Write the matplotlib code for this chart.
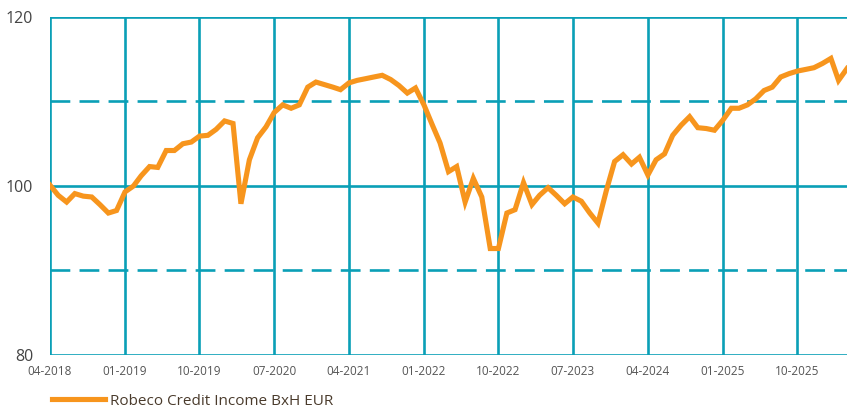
import numpy as np
import pandas as pd
import matplotlib
matplotlib.use("Agg")
import matplotlib.pyplot as plt

# ----------------------
# DATA (monthly, indexed to 100 at 04-2018)
# ----------------------
start_month = "2018-04-01"
series_name = "Robeco Credit Income BxH EUR"
values = [
    100.1, 98.9, 98.1, 99.1, 98.8, 98.7, 97.8, 96.8, 97.1, 99.3,
    100.0, 101.2, 102.3, 102.2, 104.2, 104.2, 105.0, 105.2, 105.9, 106.0,
    106.7, 107.7, 107.4, 97.9, 103.1, 105.7, 107.0, 108.7, 109.6, 109.2,
    109.6, 111.7, 112.3, 112.0, 111.7, 111.4, 112.2, 112.5, 112.7, 112.9,
    113.1, 112.6, 111.9, 111.0, 111.6, 109.6, 107.2, 105.1, 101.7, 102.3,
    98.1, 100.9, 98.7, 92.6, 92.6, 96.8, 97.2, 100.4, 97.8, 98.9,
    99.8, 98.9, 97.9, 98.7, 98.2, 96.8, 95.6, 99.5, 102.9, 103.7,
    102.6, 103.4, 101.3, 103.1, 103.8, 106.0, 107.2, 108.2, 106.9, 106.8,
    106.6, 107.8, 109.2, 109.2, 109.6, 110.3, 111.3, 111.7, 112.9, 113.3,
    113.6, 113.8, 114.0, 114.5, 115.1, 112.5, 113.9,
]
dates = pd.date_range(start_month, periods=len(values), freq="MS")
y_ticks = [80, 100, 120]
y_dashed = [90, 110]

# ----------------------
# STYLE
# ----------------------
teal = "#0a9fb6"
orange = "#f7951d"
plt.rcParams["font.family"] = ["Open Sans", "DejaVu Sans"]

fig = plt.figure(figsize=(8.47, 4.08), dpi=100)
ax = fig.add_axes([50 / 847, 1 - 355 / 408, 1 - 50 / 847, (355 - 17) / 408])

ax.plot(dates, values, color=orange, linewidth=3.7, solid_joinstyle="miter",
        zorder=3, label=series_name)

ax.set_ylim(80, 120)
ax.set_xlim(dates[0], dates[-1])
ax.set_yticks(y_ticks)
tick_dates = pd.date_range(start_month, dates[-1], freq="9MS")
ax.set_xticks(tick_dates)
ax.set_xticklabels([d.strftime("%m-%Y") for d in tick_dates])

# grid
for d in tick_dates:
    ax.axvline(d, color=teal, linewidth=1.9, zorder=1)
for yv in y_ticks:
    ax.axhline(yv, color=teal, linewidth=1.9, zorder=1)
for yv in y_dashed:
    ax.axhline(yv, color=teal, linewidth=1.9, linestyle=(0, (7.5, 3.5)), zorder=1)

for s in ax.spines.values():
    s.set_visible(False)
ax.tick_params(axis="both", length=0)
ax.tick_params(axis="y", labelsize=11.5, labelcolor="#444444", pad=12)
ax.tick_params(axis="x", labelsize=8.5, labelcolor="#555555", pad=7)

leg = fig.legend(loc="lower left", bbox_to_anchor=(38 / 847, -0.035), frameon=False,
                 fontsize=11, handlelength=3.5, handletextpad=0.3)
for t in leg.get_texts():
    t.set_color("#4a3b2c")

fig.savefig("out.png", dpi=100)
